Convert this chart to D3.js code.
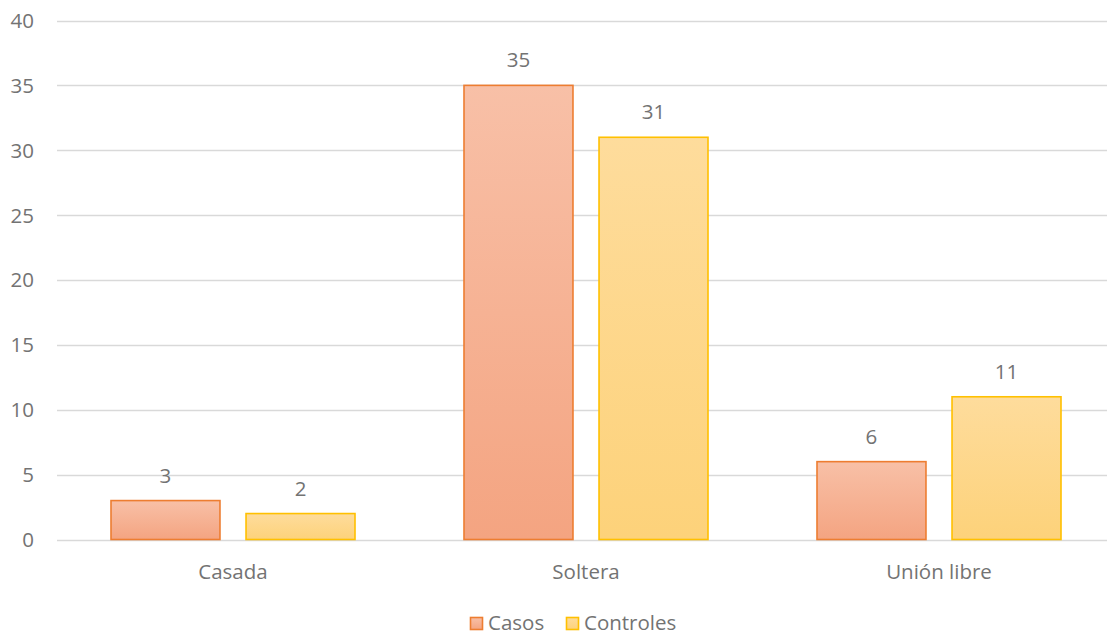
<!DOCTYPE html>
<html>
<head>
<meta charset="utf-8">
<script src="https://cdn.jsdelivr.net/npm/d3@7"></script>
<style>
  html, body { margin: 0; padding: 0; background: #fff; }
  svg { display: block; font-family: "Open Sans", Lato, "Liberation Sans", sans-serif; }
</style>
</head>
<body>
<svg id="chart" width="1107" height="635"></svg>
<script>
// Estado civil: casos y controles
const categories = ["Casada", "Soltera", "Unión libre"];
const seriesNames = ["Casos", "Controles"];
const casos = [3, 35, 6];
const controles = [2, 31, 11];
const yTicks = [0, 5, 10, 15, 20, 25, 30, 35, 40];

const seriesValues = [casos, controles];
const styles = {
  Casos: { top: "#f8c0a7", bottom: "#f4a481", stroke: "#ed7d31" },
  Controles: { top: "#fedc9c", bottom: "#fdd27a", stroke: "#ffc000" }
};
const textColor = "#737373";
const fontSize = 20.5;

const svg = d3.select("#chart");
const defs = svg.append("defs");
seriesNames.forEach((s, i) => {
  const g = defs.append("linearGradient")
    .attr("id", "grad" + i).attr("x1", 0).attr("y1", 0).attr("x2", 0).attr("y2", 1);
  g.append("stop").attr("offset", "0%").attr("stop-color", styles[s].top);
  g.append("stop").attr("offset", "100%").attr("stop-color", styles[s].bottom);
});

const y = d3.scaleLinear().domain([0, 40]).range([539.5, 20.5]);
const x0 = d3.scaleBand().domain(categories).range([56.5, 1115.5]);
const x1 = d3.scaleBand().domain(seriesNames).range([54.5, 298.5]).paddingInner(0.193);

// Gridlines
svg.append("g").selectAll("line").data(yTicks).join("line")
  .attr("x1", 57).attr("x2", 1107)
  .attr("y1", d => Math.round(y(d)) + 0.5).attr("y2", d => Math.round(y(d)) + 0.5)
  .attr("stroke", "#d9d9d9").attr("stroke-width", 1.3);

// Y tick labels
svg.append("g").selectAll("text").data(yTicks).join("text")
  .attr("x", 34).attr("y", d => y(d)).attr("dy", "0.36em")
  .attr("text-anchor", "end").attr("font-size", fontSize).attr("fill", textColor)
  .text(d => d);

// Bars
const data = categories.map((c, ci) => ({
  cat: c,
  vals: seriesNames.map((s, si) => ({ s, si, v: seriesValues[si][ci] }))
}));

const groups = svg.append("g").selectAll("g").data(data).join("g")
  .attr("transform", d => `translate(${x0(d.cat)},0)`);

groups.selectAll("rect").data(d => d.vals).join("rect")
  .attr("x", d => x1(d.s))
  .attr("y", d => y(d.v))
  .attr("width", x1.bandwidth())
  .attr("height", d => y(0) - y(d.v))
  .attr("fill", d => `url(#grad${d.si})`)
  .attr("stroke", d => styles[d.s].stroke)
  .attr("stroke-width", 1.6);

groups.selectAll("text").data(d => d.vals).join("text")
  .attr("x", d => x1(d.s) + x1.bandwidth() / 2)
  .attr("y", d => y(d.v) - 18)
  .attr("text-anchor", "middle").attr("font-size", fontSize).attr("fill", textColor)
  .text(d => d.v);

// Category labels
svg.append("g").selectAll("text").data(categories).join("text")
  .attr("x", d => x0(d) + 54.5 + 122)
  .attr("y", 579)
  .attr("text-anchor", "middle").attr("font-size", fontSize).attr("fill", textColor)
  .text(d => d);

// Legend
const legend = svg.append("g");
const legendItems = [{ s: "Casos", x: 470 }, { s: "Controles", x: 566 }];
legendItems.forEach((it, i) => {
  legend.append("rect")
    .attr("x", it.x + 0.5).attr("y", 617.5).attr("width", 12).attr("height", 12)
    .attr("fill", `url(#grad${i})`).attr("stroke", styles[it.s].stroke).attr("stroke-width", 1.6);
  legend.append("text")
    .attr("x", it.x + 18).attr("y", 630)
    .attr("font-size", fontSize).attr("fill", textColor)
    .text(it.s);
});
</script>
</body>
</html>
